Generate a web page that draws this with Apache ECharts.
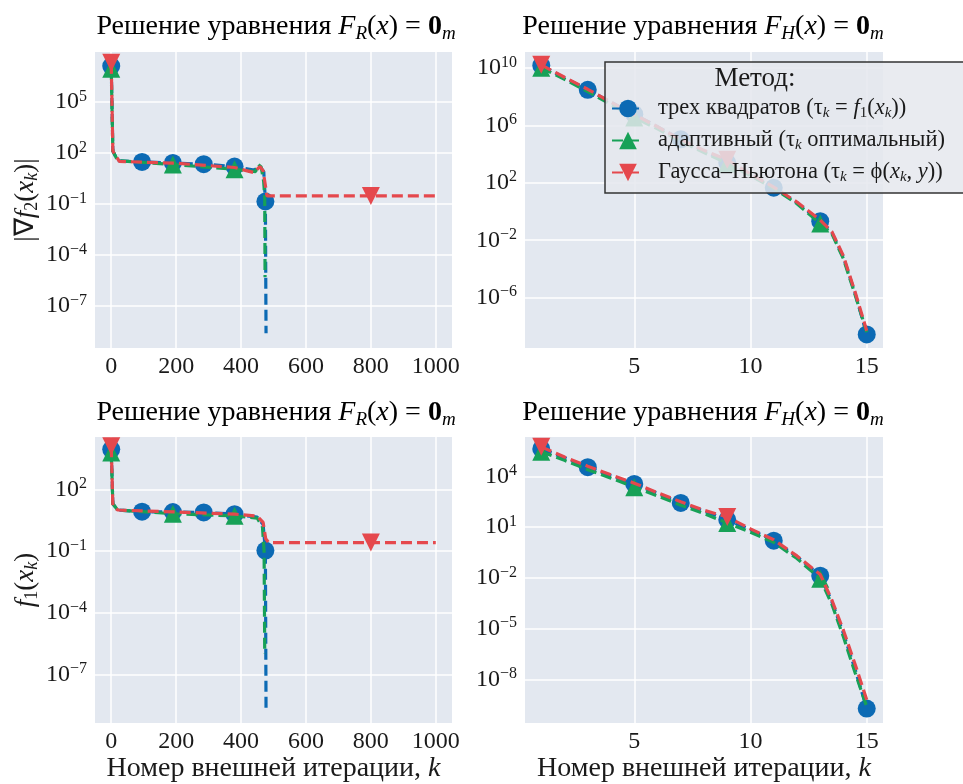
<!DOCTYPE html>
<html>
<head>
<meta charset="utf-8">
<script src="https://cdn.jsdelivr.net/npm/echarts@6/dist/echarts.min.js"></script>
<style>
html, body { margin: 0; background: #fff; }
#chart { width: 963px; height: 784px; }
</style>
</head>
<body>
<div id="chart"></div>
<script>
// методы (порядок: синий, зелёный, красный)
var methodNames = ['трех квадратов', 'адаптивный', 'Гаусса–Ньютона'];

// уравнение F_R: точки [k, значение], k - номер внешней итерации
var gradR_sq = [[0, 1.3e7], [5, 130], [20, 35], [95, 30], [190, 26], [285, 22], [380, 16], [440, 10], [458, 16], [470, 8], [475, 0.14], [477, 2.5e-9]];
var gradR_ad = [[0, 9e6], [5, 130], [20, 35], [190, 21], [380, 11], [445, 8], [452, 22], [462, 15], [470, 2], [473, 0.2], [474, 5e-6]];
var gradR_gn = [[0, 2e7], [5, 130], [10, 90], [25, 32], [200, 25], [380, 14], [440, 7], [458, 16], [468, 9], [480, 0.3], [800, 0.3], [1000, 0.3]];

var f1R_sq = [[0, 8.9e3], [5, 20], [20, 10], [95, 8.3], [190, 8], [285, 7.6], [380, 6.3], [450, 4.5], [468, 2], [475, 0.107], [477, 2e-9]];
var f1R_ad = [[0, 6.2e3], [5, 20], [20, 10], [190, 6.6], [380, 5.2], [450, 4], [466, 1.5], [471, 0.1], [473, 1e-6]];
var f1R_gn = [[0, 1.26e4], [5, 16], [20, 10], [200, 8], [380, 6.3], [450, 5], [468, 2.5], [476, 0.4], [485, 0.26], [800, 0.26], [1000, 0.26]];

// уравнение F_H
var kH = [1, 2, 3, 4, 5, 6, 7, 8, 9, 10, 11, 12, 13, 13.5, 14, 14.5, 15];
var gradH_sq = [1.45e10, 2.0e9, 2.95e8, 4.0e7, 5.9e6, 7.9e5, 1.05e5, 1.6e4, 2.45e3, 355, 45, 4, 0.21, 0.035, 6.3e-4, 2e-6, 2.8e-9];
var gradH_ad = [1.0e10, 1.6e9, 2.2e8, 2.8e7, 3.5e6, 5.6e5, 7.9e4, 1.26e4, 2.2e3, 316, 40, 3.5, 0.145, 0.028, 5e-4, 1.6e-6, 4e-9];
var gradH_gn = [1.6e10, 2.2e9, 3.2e8, 4.0e7, 5.6e6, 7.9e5, 1.0e5, 1.8e4, 4.0e3, 400, 50, 4.5, 0.25, 0.04, 7.9e-4, 2.5e-6, 5e-9];

var f1H_sq = [4.2e5, 1.26e5, 3.5e4, 1.1e4, 3.6e3, 1.0e3, 270, 89, 27.5, 7.1, 1.6, 0.18, 0.0135, 4e-4, 5e-6, 4e-8, 1.9e-10];
var f1H_ad = [2.9e5, 8.9e4, 2.5e4, 7.9e3, 2.3e3, 710, 200, 63, 17.8, 5, 1.26, 0.14, 8.9e-3, 2.8e-4, 3.2e-6, 2.5e-8, 2.5e-10];
var f1H_gn = [5.6e5, 1.4e5, 4.0e4, 1.26e4, 4.0e3, 1.1e3, 316, 100, 40, 7.9, 1.8, 0.2, 0.016, 5e-4, 7.9e-6, 7.9e-8, 6.3e-10];

// где стоят маркеры
var marksR = [[0, 95, 190, 285, 380, 475], [0, 190, 380], [0, 800]];
var marksH = [[1, 3, 5, 7, 9, 11, 13, 15], [1, 5, 9, 13], [1, 9]];

// метки осей
var ticksR = [0, 200, 400, 600, 800, 1000];
var ticksH = [5, 10, 15];
var yTicks = [
    [1e5, 1e2, 1e-1, 1e-4, 1e-7],
    [1e10, 1e6, 1e2, 1e-2, 1e-6],
    [1e2, 1e-1, 1e-4, 1e-7],
    [1e4, 1e1, 1e-2, 1e-5, 1e-8]
];
var yRange = [[-9.47, 7.94], [-9.5, 11.1], [-9.36, 4.55], [-10.58, 6.33]];
var tolerance = 1e-6;

var colors = ['#0c6ab4', '#17a157', '#e5484d'];
var symbols = ['circle', 'triangle', 'triangle'];
var serif = 'Liberation Serif';
var ink = '#1a1a1a';

function richAt(size) {
    var sub = Math.round(size * 0.68), pad = Math.round(size * 0.45);
    return {
        n: {fontFamily: serif, fontSize: size, color: ink},
        n0: {fontFamily: serif, fontSize: size, color: ink, padding: [0, 0, 0, 9]},
        i: {fontFamily: serif, fontSize: size, fontStyle: 'italic', color: ink},
        b: {fontFamily: serif, fontSize: size, fontWeight: 'bold', color: ink},
        s: {fontFamily: serif, fontSize: sub, fontStyle: 'italic', color: ink, padding: [pad, 0, 0, 0]},
        s0: {fontFamily: serif, fontSize: sub, color: ink, padding: [pad, 0, 0, 0]},
        sup: {fontFamily: serif, fontSize: sub, color: ink, padding: [0, 0, pad, 0]}
    };
}

var legendLabels = {
    'трех квадратов': '{n0|трех квадратов (τ}{s|k}{n| = }{i|f}{s0|1}{n|(}{i|x}{s|k}{n|))}',
    'адаптивный': '{n0|адаптивный (τ}{s|k}{n| оптимальный)}',
    'Гаусса–Ньютона': '{n0|Гаусса–Ньютона (τ}{s|k}{n| = ϕ(}{i|x}{s|k}{n|, }{i|y}{n|))}'
};

var grids = [
    {left: 95, top: 52, width: 357, height: 296},
    {left: 525, top: 52, width: 358, height: 296},
    {left: 95, top: 437, width: 357, height: 295},
    {left: 525, top: 437, width: 358, height: 295}
];

function toPoints(ks, vals) {
    return ks.map(function (k, i) { return [k, vals[i]]; });
}

function withMarks(points, marks) {
    return points.map(function (p) {
        return marks.indexOf(p[0]) >= 0 ? {value: p} : {value: p, symbol: 'none'};
    });
}

var panels = [
    [gradR_sq, gradR_ad, gradR_gn],
    [toPoints(kH, gradH_sq), toPoints(kH, gradH_ad), toPoints(kH, gradH_gn)],
    [f1R_sq, f1R_ad, f1R_gn],
    [toPoints(kH, f1H_sq), toPoints(kH, f1H_ad), toPoints(kH, f1H_gn)]
];

var series = [];
panels.forEach(function (lines, g) {
    var marks = (g % 2 === 0) ? marksR : marksH;
    lines.forEach(function (pts, m) {
        var s = {
            name: methodNames[m],
            type: 'line',
            xAxisIndex: g,
            yAxisIndex: g,
            data: withMarks(pts, marks[m]),
            symbol: symbols[m],
            symbolRotate: m === 2 ? 180 : 0,
            symbolSize: 18,
            showSymbol: true,
            z: 1 + m,
            silent: true,
            animation: false,
            lineStyle: {color: colors[m], width: 3.2, type: [11, 5]},
            itemStyle: {color: colors[m]}
        };
        if (m === 2) {
            s.markLine = {
                silent: true,
                symbol: 'none',
                label: {show: false},
                animation: false,
                lineStyle: {color: colors[2], width: 3, type: 'solid'},
                data: [{yAxis: tolerance}]
            };
        }
        series.push(s);
    });
});

var xAxes = grids.map(function (gr, g) {
    var left = g % 2 === 0;
    return {
        type: 'value',
        gridIndex: g,
        min: left ? -50 : 0.3,
        max: left ? 1050 : 15.7,
        axisLine: {show: false},
        axisTick: {show: false, customValues: left ? ticksR : ticksH},
        axisLabel: {
            customValues: left ? ticksR : ticksH,
            margin: 7,
            fontFamily: serif, fontSize: 24, color: ink,
            formatter: function (v) { return String(v); }
        },
        splitLine: {lineStyle: {color: '#fff', width: 1.5}},
        name: g >= 2 ? '{n|Номер внешней итерации, }{i|k}' : '',
        nameLocation: 'middle',
        nameGap: 31,
        nameTextStyle: {rich: richAt(28)}
    };
});

var yNames = ['{n||∇}{i|f}{s0|2}{n|(}{i|x}{s|k}{n|)|}', '', '{i|f}{s0|1}{n|(}{i|x}{s|k}{n|)}', ''];

var yAxes = grids.map(function (gr, g) {
    return {
        type: 'log',
        logBase: 10,
        gridIndex: g,
        min: Math.pow(10, yRange[g][0]),
        max: Math.pow(10, yRange[g][1]),
        axisLine: {show: false},
        axisTick: {show: false, customValues: yTicks[g]},
        axisLabel: {
            customValues: yTicks[g],
            margin: 8,
            formatter: function (v) {
                var e = Math.round(Math.log10(v));
                return '{n|10}{sup|' + (e < 0 ? '−' + (-e) : e) + '}';
            },
            rich: richAt(24)
        },
        splitLine: {lineStyle: {color: '#fff', width: 1.5}},
        name: yNames[g],
        nameLocation: 'middle',
        nameRotate: 90,
        nameGap: 54,
        nameTextStyle: {rich: richAt(27)}
    };
});

function titleText(sub) {
    return '{n|Решение уравнения }{i|F}{s|' + sub + '}{n|(}{i|x}{n|) = }{b|0}{s|m}';
}
var titlePos = [[276, 27, 'R'], [703, 27, 'H'], [276, 413, 'R'], [703, 413, 'H']];

var graphic = titlePos.map(function (t) {
    return {
        type: 'text', x: t[0], y: t[1], z: 10,
        style: {text: titleText(t[2]), rich: richAt(28), align: 'center', verticalAlign: 'middle'}
    };
});
graphic.push({
    type: 'text', x: 755, y: 79, z: 100, zlevel: 1,
    style: {text: 'Метод:', fontFamily: serif, fontSize: 27, fill: ink, align: 'center', verticalAlign: 'middle'}
});

var chart = echarts.init(document.getElementById('chart'));
chart.setOption({
    animation: false,
    backgroundColor: '#fff',
    textStyle: {fontFamily: serif},
    grid: grids.map(function (gr) {
        return Object.assign({show: true, backgroundColor: '#e3e8f0', borderWidth: 0}, gr);
    }),
    xAxis: xAxes,
    yAxis: yAxes,
    legend: {
        data: methodNames,
        orient: 'vertical',
        left: 605,
        top: 62,
        z: 10,
        padding: [35, 40, 8, 6],
        itemWidth: 32,
        itemHeight: 22,
        itemGap: 8,
        selectedMode: false,
        backgroundColor: 'rgba(229,231,237,0.85)',
        borderColor: '#333',
        borderWidth: 1.5,
        borderRadius: 0,
        formatter: function (name) { return legendLabels[name]; },
        textStyle: {rich: richAt(22.5)}
    },
    graphic: graphic,
    series: series
});
</script>
</body>
</html>
